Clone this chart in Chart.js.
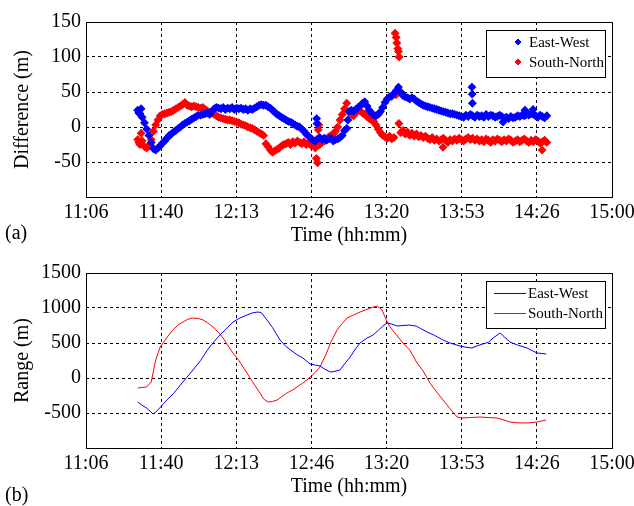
<!DOCTYPE html>
<html><head><meta charset="utf-8">
<script src="https://cdn.jsdelivr.net/npm/chart.js@4/dist/chart.umd.min.js"></script>
<style>
html,body{margin:0;padding:0;background:#fff;}
#wrap{position:relative;width:634px;height:506px;overflow:hidden;background:#fff;}
canvas{position:absolute;left:0;}
</style></head><body>
<div id="wrap">
<canvas id="c1" width="634" height="253" style="top:0px"></canvas>
<canvas id="c2" width="634" height="255" style="top:251px"></canvas>
</div>
<script>
// ---------- axis ticks ----------
const xTickLabels = ['11:06','11:40','12:13','12:46','13:20','13:53','14:26','15:00'];
const xMin = 666, xMax = 900; // minutes after midnight (11:06 .. 15:00)
const diffTickValues = [-100, -50, 0, 50, 100, 150];
const diffTickLabels = ['', '-50', '0', '50', '100', '150'];
const rangeTickValues = [-1000, -500, 0, 500, 1000, 1500];
const rangeTickLabels = ['', '-500', '0', '500', '1000', '1500'];
const seriesNames = ['East-West', 'South-North'];

// ---------- (a) Difference, East-West ----------
const ewDiffTime = [689,689.5,690,690.5,691,692,693,694,695,696,697,698,699,700,701,702,703,704,705,706,707,708,709,710,711,712,713,714,715,716,717,718,719,720,721,722,723,724,725,726,727,728,729,730,731,732,733,734,735,736,737,738,739,740,741,742,743,744,745,746,747,748,749,750,751,752,753,754,755,756,757,758,759,760,761,762,763,764,765,766,767,768,768.6,768.8,769,770,771,772,773,774,775,776,777,778,779,780,781,782,782.5,783,784,785,786,787,788,789,790,791,792,793,794,795,796,797,798,799,800,801,802,803,804,805,806,807,808,809,810,811,812,813,814,815,816,817,818,819,820,821,822,823,824,825,826,827,828,829,830,831,832,833,834,835,836,837,837.7,837.8,837.9,838,839,840,841,842,843,844,845,846,847,848,849,850,851,851.5,852,853,854,855,856,857,858,859,860,861,861.3,862,863,864,864.9,865,866,867,868,869,870,871];
const ewDiffVal = [24,20,19,26,14,6,-3,-12,-22,-31,-33,-30,-27,-23,-20,-16,-12,-10,-7,-5,-2,0,3,5,7,9,11,13,15,17,17,18,19,20,18,22,26,28,27,26,28,25,27,26,28,25,27,26,27,25,26,24,26,25,27,29,31,32,31,31,29,27,24,21,18,16,14,12,10,8,7,5,3,1,0,-3,-6,-10,-13,-16,-19,-20,12,5,-17,-15,-18,-16,-19,-17,-16,-20,-18,-17,-15,-12,-5,-2,10,22,24,22,25,28,30,34,36,30,24,20,17,16,18,22,28,35,40,43,44,48,52,57,50,45,43,42,40,42,40,37,35,33,31,30,29,28,27,26,25,24,23,22,21,20,19,19,18,17,16,15,14,17,15,18,57,47,34,16,14,17,15,16,14,18,15,17,16,14,15,17,15,7,13,14,12,15,13,14,16,15,17,16,24,18,17,19,25,18,16,14,17,15,13,16];

// ---------- (a) Difference, South-North ----------
const snDiffTime = [689,689.5,690,690.5,691,692,693,694,694.5,695,696,697,698,699,700,701,702,703,704,705,706,707,708,709,710,711,712,713,714,715,716,717,718,719,720,721,722,723,724,725,726,727,728,729,730,731,732,733,734,735,736,737,738,739,740,741,742,743,744,745,746,747,748,749,750,751,752,753,754,755,756,757,758,759,760,761,762,763,764,765,766,767,768,768.5,769,769.3,769.6,770,771,772,773,774,775,776,777,778,779,780,781,782,783,784,785,786,787,788,789,790,791,792,793,794,795,796,797,798,799,800,801,802,803,803.5,803.9,804,804.3,804.7,805,805.2,805.3,806,807,808,809,810,811,812,813,814,815,816,817,818,819,820,821,822,823,824,824.8,825,826,827,828,829,830,831,832,833,834,835,836,837,838,839,840,841,842,843,844,845,846,847,848,849,850,851,852,853,854,855,856,857,858,859,860,861,862,863,864,865,866,867,868,868.9,869,870,871];
const snDiffVal = [-18,-22,-25,-9,-20,-28,-30,-27,-25,-18,-6,3,10,16,18,19,20,21,22,24,26,28,30,32,35,31,30,29,30,29,28,27,28,25,23,21,20,18,16,14,13,12,11,10,10,9,8,7,6,4,3,2,0,-1,-2,-4,-6,-8,-10,-12,-24,-28,-33,-36,-34,-32,-30,-27,-25,-24,-22,-25,-21,-23,-20,-22,-24,-21,-25,-23,-26,-24,-30,-45,-51,-4,3,-25,-22,-20,-17,-14,-12,-10,-6,0,10,18,26,34,22,18,16,20,24,23,20,18,15,12,10,8,3,-3,-8,-12,-14,-16,-13,-17,-15,134,46,128,120,112,108,5,100,-8,-5,-10,-7,-12,-9,-13,-10,-14,-12,-15,-13,-16,-18,-15,-19,-17,-20,-18,-29,-16,-19,-22,-18,-20,-17,-19,-16,-18,-20,-17,-15,-18,-16,-19,-17,-20,-18,-21,-17,-19,-22,-18,-20,-17,-19,-21,-18,-20,-17,-19,-22,-20,-18,-21,-19,-17,-20,-22,-19,-21,-18,-20,-23,-33,-21,-19,-22];

// ---------- (b) Range, East-West ----------
const ewRangeTime = [689,691,693,695.8,697,699,702,705,708,711,714,717,720,723,725.6,728,731.4,734,737.6,740,742.5,744,746.5,749,752.3,755,757,760,762.5,765.7,768,770.1,772,774.6,776,779,781,783.5,786,787.9,791,793.7,796,798,800,802,804.4,807,810,813,817.7,821,824.8,828,832.4,835,837.7,840,842.6,845,847.1,850.2,852,854.6,858,862.2,866.6,870.7];
const ewRangeVal = [-343,-390,-430,-514,-490,-420,-314,-220,-100,14,130,250,400,520,614,690,800,850,900,930,943,935,829,720,543,450,400,330,286,200,185,171,130,86,90,114,200,300,420,500,570,614,680,740,786,770,743,750,757,740,657,610,543,500,457,440,429,460,486,510,571,643,590,514,470,429,357,343];

// ---------- (b) Range, South-North ----------
const snRangeTime = [689,691,693,695,696,697,699,702,704.7,707,709.2,711,713.2,716,718.1,720,722.5,725,727,729,731.4,734,737.6,740,743.4,745,747,749,751,753,755.4,758,761.2,763,765.7,768,770.1,773.2,775,777.7,780,782.1,785,787.9,791,793.7,795.5,797.7,800,801.2,804,807,810,813.3,816,819,822,824.8,828,831.1,833.3,837,841.3,845,848.9,852,854.6,858,860.4,863,866.6,870.7];
const snRangeVal = [-143,-135,-129,-57,100,257,443,580,686,760,800,835,857,850,829,790,729,650,571,470,357,250,71,-50,-214,-300,-343,-335,-314,-270,-214,-170,-100,-60,14,80,157,371,520,686,780,857,900,943,980,1014,1029,971,800,729,620,500,400,214,100,-71,-200,-314,-440,-557,-571,-565,-557,-565,-571,-600,-629,-640,-643,-640,-629,-600];

// ---------- helpers ----------
const pts = (t, v) => t.map((x, i) => ({x: x, y: v[i]}));
const FONT = "'Liberation Serif', 'Times New Roman', serif";
const BLUE = '#0000ff', RED = '#ff0000';
const AREA = {left: 86, right: 612, top: 22, bottom: 197};

function diamond(ctx, x, y, r, color) {
  ctx.save();
  ctx.fillStyle = color; ctx.strokeStyle = color; ctx.lineWidth = 1;
  ctx.beginPath();
  ctx.moveTo(x, y - r); ctx.lineTo(x + r, y); ctx.lineTo(x, y + r); ctx.lineTo(x - r, y);
  ctx.closePath(); ctx.fill(); ctx.stroke();
  ctx.restore();
}

function makePlugins(panel, markerLegend) {
  return [{
    id: 'frameLegend',
    afterDatasetsDraw(chart) {
      const ctx = chart.ctx, a = chart.chartArea;
      ctx.save();
      ctx.strokeStyle = '#000'; ctx.lineWidth = 1; ctx.setLineDash([]);
      ctx.strokeRect(Math.round(a.left) + 0.5, Math.round(a.top) + 0.5,
                     Math.round(a.right - a.left), Math.round(a.bottom - a.top));
      // legend box
      const lx = 486, ly = 30, lw = 119, lh = 47;
      ctx.fillStyle = '#fff';
      ctx.fillRect(lx, ly, lw, lh);
      ctx.strokeRect(lx + 0.5, ly + 0.5, lw, lh);
      const rows = [42, 62];
      const colors = [BLUE, RED];
      ctx.font = '15px ' + FONT;
      ctx.textBaseline = 'middle';
      ctx.textAlign = 'left';
      chart.data.datasets.forEach((ds, i) => {
        const y = rows[i];
        if (markerLegend) {
          diamond(ctx, 518, y, 3, colors[i]);
        } else {
          ctx.strokeStyle = colors[i]; ctx.lineWidth = 1;
          ctx.beginPath(); ctx.moveTo(494, y + 0.5); ctx.lineTo(526, y + 0.5); ctx.stroke();
        }
        ctx.fillStyle = '#000';
        ctx.fillText(ds.label, markerLegend ? 529 : 528, y + 1);
      });
      // panel label
      ctx.font = '20px ' + FONT;
      ctx.fillText(panel.text, 5, panel.y);
      ctx.restore();
    }
  }];
}

function scalesFor(yMin, yMax, yVals, yLabels, yTitle, canvasH, titlePadBottom) {
  return {
    x: {
      type: 'linear', min: xMin, max: xMax,
      afterBuildTicks(s) {
        s.ticks = xTickLabels.map((_, i) => ({value: xMin + i * (xMax - xMin) / (xTickLabels.length - 1)}));
      },
      afterFit(s) { s.height = canvasH - AREA.bottom; s.paddingLeft = 0; s.paddingRight = 0; },
      ticks: {
        autoSkip: false, maxRotation: 0, minRotation: 0, padding: 4, color: '#000',
        font: {family: FONT, size: 20},
        callback: (v, i) => xTickLabels[i]
      },
      grid: {color: '#000', lineWidth: 1, drawTicks: false},
      border: {display: false, dash: [3, 3]},
      title: {display: true, text: 'Time (hh:mm)', color: '#000',
              font: {family: FONT, size: 20}, padding: {top: 0, bottom: titlePadBottom}}
    },
    y: {
      type: 'linear', min: yMin, max: yMax,
      afterBuildTicks(s) { s.ticks = yVals.map(v => ({value: v})); },
      afterFit(s) { s.width = AREA.left; s.paddingTop = 0; s.paddingBottom = 0; },
      ticks: {
        padding: 5, color: '#000', font: {family: FONT, size: 20},
        callback: (v, i) => yLabels[i]
      },
      grid: {color: '#000', lineWidth: 1, drawTicks: false},
      border: {display: false, dash: [3, 3]},
      title: {display: true, text: yTitle, color: '#000',
              font: {family: FONT, size: 20}, padding: {top: 11, bottom: 0}}
    }
  };
}

const common = {
  responsive: false, animation: false, devicePixelRatio: 1,
  layout: {padding: {top: AREA.top, right: 634 - AREA.right, left: 0, bottom: 0}},
  plugins: {legend: {display: false}, tooltip: {enabled: false}}
};

new Chart(document.getElementById('c1'), {
  type: 'scatter',
  data: {datasets: [
    {label: seriesNames[0], data: pts(ewDiffTime, ewDiffVal), pointStyle: 'rectRot', pointRadius: 3.6,
     backgroundColor: BLUE, borderColor: BLUE, borderWidth: 1.2},
    {label: seriesNames[1], data: pts(snDiffTime, snDiffVal), pointStyle: 'rectRot', pointRadius: 3.6,
     backgroundColor: RED, borderColor: RED, borderWidth: 1.2}
  ]},
  options: Object.assign({}, common, {
    scales: scalesFor(-100, 150, diffTickValues, diffTickLabels, 'Difference (m)', 253, 5)
  }),
  plugins: makePlugins({text: '(a)', y: 234}, true)
});

new Chart(document.getElementById('c2'), {
  type: 'scatter',
  data: {datasets: [
    {label: seriesNames[0], data: pts(ewRangeTime, ewRangeVal), showLine: true, pointRadius: 0,
     borderColor: BLUE, backgroundColor: BLUE, borderWidth: 1, tension: 0},
    {label: seriesNames[1], data: pts(snRangeTime, snRangeVal), showLine: true, pointRadius: 0,
     borderColor: RED, backgroundColor: RED, borderWidth: 1, tension: 0}
  ]},
  options: Object.assign({}, common, {
    scales: scalesFor(-1000, 1500, rangeTickValues, rangeTickLabels, 'Range (m)', 255, 7)
  }),
  plugins: makePlugins({text: '(b)', y: 245}, false)
});
</script>
</body></html>
